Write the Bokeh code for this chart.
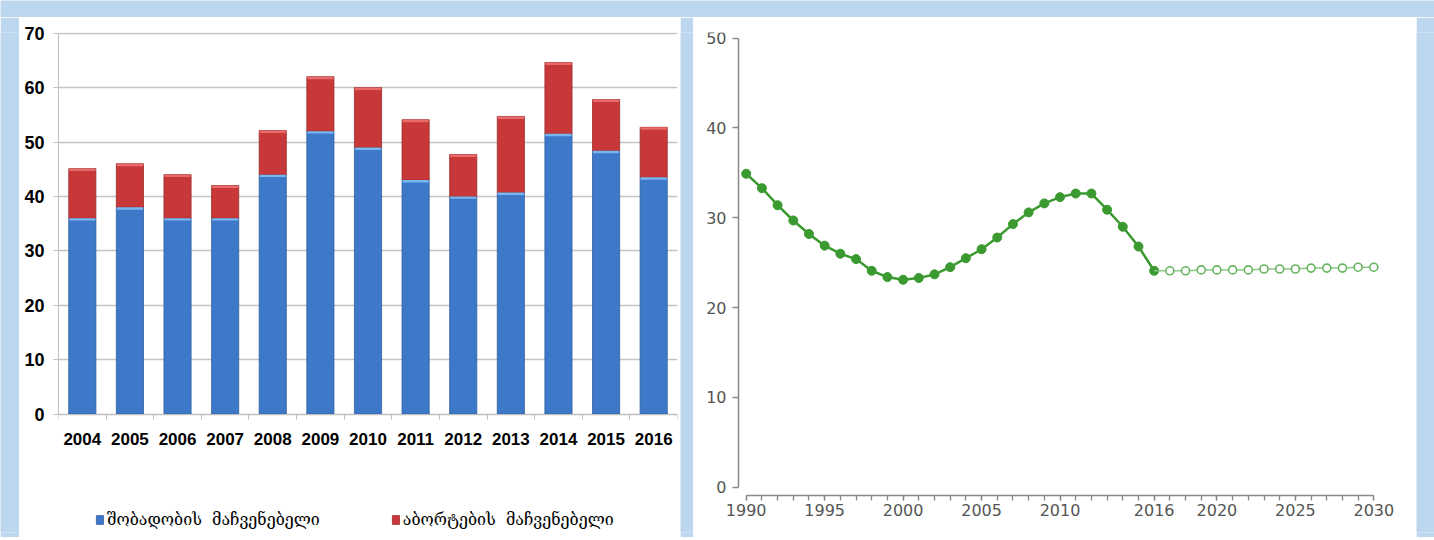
from bokeh.plotting import figure
from bokeh.layouts import row, column
from bokeh.models import FixedTicker, Legend, LegendItem, Range1d
from bokeh.embed import file_html
from bokeh.resources import INLINE
from bokeh.core.properties import value

# ---------------- data ----------------
years = ["2004", "2005", "2006", "2007", "2008", "2009", "2010",
         "2011", "2012", "2013", "2014", "2015", "2016"]
birth_rate = [36.0, 38.0, 36.0, 36.0, 44.0, 52.0, 49.0, 43.0, 40.0, 40.7, 51.5, 48.4, 43.5]
abortion_rate = [9.1, 8.0, 8.0, 6.0, 8.1, 10.0, 11.0, 11.1, 7.7, 14.0, 13.1, 9.4, 9.2]
legend_labels = ["შობადობის  მაჩვენებელი", "აბორტების  მაჩვენებელი"]
left_yticks = [0, 10, 20, 30, 40, 50, 60, 70]

hist_years = list(range(1990, 2017))
hist_values = [34.9, 33.3, 31.4, 29.7, 28.2, 26.9, 26.0, 25.4, 24.1, 23.4,
               23.1, 23.3, 23.7, 24.5, 25.5, 26.5, 27.8, 29.3, 30.6, 31.6,
               32.3, 32.7, 32.7, 30.9, 29.0, 26.8, 24.1]
proj_years = list(range(2017, 2031))
proj_values = [24.1, 24.1, 24.2, 24.2, 24.2, 24.2, 24.3, 24.3, 24.3, 24.4,
               24.4, 24.4, 24.5, 24.5]
right_xlabels = [1990, 1995, 2000, 2005, 2010, 2016, 2020, 2025, 2030]
right_yticks = [0, 10, 20, 30, 40, 50]

BG = "#bdd7ee"


def filler(w, h):
    f = figure(width=w, height=h, output_backend="svg", toolbar_location=None,
               min_border=0, x_axis_type=None, y_axis_type=None)
    f.outline_line_color = None
    f.grid.visible = False
    f.background_fill_color = BG
    f.border_fill_color = BG
    return f


# ---------------- left: stacked bars ----------------
xs = list(range(len(years)))
tops = [b + a for b, a in zip(birth_rate, abortion_rate)]
BW = 0.57

p1 = figure(width=661, height=520, x_range=Range1d(-0.5, len(years) - 0.5),
            y_range=Range1d(-21.78, 70.13), output_backend="svg", toolbar_location=None,
            min_border_left=39, min_border_right=3, min_border_top=15,
            min_border_bottom=5)
p1.outline_line_color = None
p1.border_fill_color = "white"
p1.xgrid.grid_line_color = None
p1.ygrid.grid_line_color = "#c4c4c4"
p1.ygrid.grid_line_width = 1.3

rb = p1.vbar(x=xs, top=birth_rate, bottom=0, width=BW, fill_color="#3d79c8",
             line_color="#2e5e9e", line_width=0.8)
rr = p1.vbar(x=xs, top=tops, bottom=birth_rate, width=BW, fill_color="#c83838",
             line_color="#9c2a2a", line_width=0.8)
# top highlights
p1.vbar(x=xs, top=birth_rate, bottom=[b - 0.45 for b in birth_rate], width=BW - 0.02,
        fill_color="#78b6ef", line_color=None)
p1.vbar(x=xs, top=tops, bottom=[t - 0.45 for t in tops], width=BW - 0.02,
        fill_color="#e86a6a", line_color=None)

p1.yaxis.ticker = FixedTicker(ticks=left_yticks)
p1.yaxis.bounds = (0, 70)
p1.yaxis.axis_line_color = "#bfbfbf"
p1.yaxis.major_tick_line_color = "#bfbfbf"
p1.yaxis.major_tick_out = 5
p1.yaxis.major_tick_in = 0
p1.yaxis.minor_tick_line_color = None
p1.yaxis.major_label_text_font = "Liberation Sans"
p1.yaxis.major_label_text_font_style = "bold"
p1.yaxis.major_label_text_font_size = "18px"
p1.yaxis.major_label_text_color = "black"
p1.yaxis.major_label_standoff = 9

p1.xaxis.fixed_location = 0
p1.xaxis.ticker = FixedTicker(ticks=xs, minor_ticks=[i - 0.5 for i in range(len(years) + 1)])
p1.xaxis.major_label_overrides = {i: y for i, y in enumerate(years)}
p1.xaxis.axis_line_color = "#bfbfbf"
p1.xaxis.major_tick_line_color = None
p1.xaxis.major_tick_out = 0
p1.xaxis.major_tick_in = 0
p1.xaxis.minor_tick_line_color = "#bfbfbf"
p1.xaxis.minor_tick_out = 5
p1.xaxis.minor_tick_in = 0
p1.xaxis.major_label_text_font = "Liberation Sans"
p1.xaxis.major_label_text_font_style = "bold"
p1.xaxis.major_label_text_font_size = "17px"
p1.xaxis.major_label_text_color = "black"
p1.xaxis.major_label_standoff = 14

legend = Legend(items=[LegendItem(label=legend_labels[0], renderers=[rb]),
                       LegendItem(label=legend_labels[1], renderers=[rr])],
                orientation="horizontal", location=(37, 3),
                glyph_width=9, glyph_height=11, label_standoff=3, spacing=71,
                padding=4, margin=0, border_line_color=None,
                background_fill_alpha=0,
                label_text_font="DejaVu Serif", label_text_font_size="16px",
                label_text_color="black")
p1.add_layout(legend)

# ---------------- right: line ----------------
p2 = figure(width=723, height=520, x_range=Range1d(1986.96, 2032.40),
            y_range=Range1d(-5.04, 50.63), output_backend="svg",
            toolbar_location=None, min_border_left=5, min_border_right=5,
            min_border_top=15, min_border_bottom=5)
p2.outline_line_color = None
p2.border_fill_color = "white"
p2.grid.grid_line_color = None

p2.line(hist_years, hist_values, line_color="#3a9a30", line_width=2.5)
p2.scatter(hist_years, hist_values, size=9, fill_color="#3a9a30", line_color="#3a9a30")
p2.line([hist_years[-1]] + proj_years, [hist_values[-1]] + proj_values,
        line_color="#8cc986", line_width=1.5)
p2.scatter(proj_years, proj_values, size=8, fill_color="white", line_color="#66b55e",
           line_width=1.6)

p2.yaxis.fixed_location = 1989.51
p2.yaxis.ticker = FixedTicker(ticks=right_yticks)
p2.yaxis.bounds = (0, 50)
p2.xaxis.fixed_location = -0.92
p2.xaxis.ticker = FixedTicker(ticks=right_xlabels, minor_ticks=list(range(1990, 2031)))
p2.xaxis.bounds = (1990, 2030)
for ax in (p2.xaxis, p2.yaxis):
    ax.axis_line_color = "#888888"
    ax.axis_line_width = 1.5
    ax.major_tick_line_color = "#888888"
    ax.major_tick_line_width = 1.3
    ax.major_tick_in = 0
    ax.major_label_text_font = "DejaVu Sans"
    ax.major_label_text_font_size = "16px"
    ax.major_label_text_color = "#555555"
p2.yaxis.major_tick_out = 6
p2.yaxis.minor_tick_line_color = None
p2.yaxis.major_label_standoff = 6
p2.xaxis.major_tick_out = 5
p2.xaxis.minor_tick_out = 5
p2.xaxis.minor_tick_in = 0
p2.xaxis.minor_tick_line_color = "#888888"
p2.xaxis.minor_tick_line_width = 1.3
p2.xaxis.major_label_standoff = 4

inner = row(filler(19, 520), p1, filler(13, 520), p2, filler(18, 520))
layout = column(filler(1434, 17), inner, filler(1434, 3))

open("out.html", "w").write(file_html(layout, INLINE))
